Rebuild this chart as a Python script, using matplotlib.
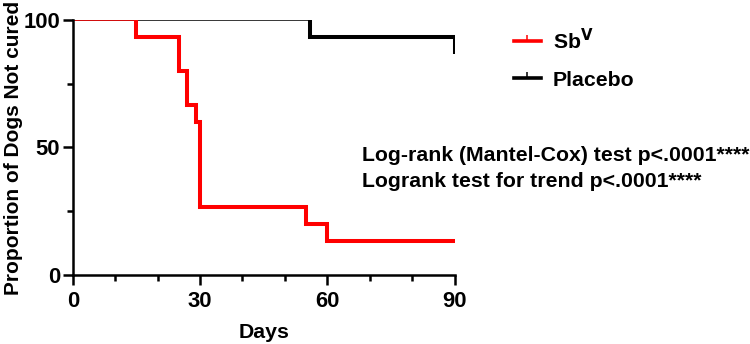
import matplotlib.pyplot as plt
from matplotlib.lines import Line2D
from matplotlib.ticker import MultipleLocator

plt.rcParams['font.family'] = ['Liberation Sans', 'DejaVu Sans']
plt.rcParams['font.weight'] = 'bold'

# Kaplan-Meier step data (days, % not cured)
sb_days = [0, 15, 25, 27, 29, 30, 55, 60, 90]
sb_pct = [100, 93.3, 80, 66.7, 60, 26.7, 20, 13.3, 13.3]
placebo_days = [0, 56, 90]
placebo_pct = [100, 93.3, 86.7]

xticks = [0, 30, 60, 90]
yticks = [0, 50, 100]
stats = ["Log-rank (Mantel-Cox) test p<.0001****",
         "Logrank test for trend p<.0001****"]

FS = 15.3


def km_path(days, pct):
    xs, ys = [days[0]], [pct[0]]
    for i in range(1, len(days)):
        xs += [days[i], days[i]]
        ys += [pct[i - 1], pct[i]]
    return xs, ys


fig = plt.figure(figsize=(7.5, 3.44), dpi=100)
ax = fig.add_axes([0.097, 0.2006, 0.509, 0.7413])

for days, pct, col in [(placebo_days, placebo_pct, 'black'), (sb_days, sb_pct, 'red')]:
    xs, ys = km_path(days, pct)
    # thin segment before the first event, thick afterwards
    ax.plot(xs[:2], ys[:2], color=col, lw=1.1, solid_capstyle='butt')
    ax.plot(xs[1:], ys[1:], color=col, lw=2.9, solid_capstyle='butt', solid_joinstyle='miter')

ax.set_xlim(0, 90)
ax.set_ylim(0, 100)
ax.set_xticks(xticks)
ax.set_yticks(yticks)
ax.xaxis.set_minor_locator(MultipleLocator(10))
ax.yaxis.set_minor_locator(MultipleLocator(25))
ax.tick_params(which='major', length=7, width=1.8, labelsize=FS + 0.5)
ax.tick_params(which='minor', length=4, width=1.8)
ax.tick_params(axis='x', which='major', pad=4.5)
ax.tick_params(axis='y', which='major', pad=2)
for lbl in ax.get_xticklabels() + ax.get_yticklabels():
    lbl.set_fontweight('bold')
ax.spines['top'].set_visible(False)
ax.spines['right'].set_visible(False)
ax.spines['left'].set_linewidth(1.8)
ax.spines['bottom'].set_linewidth(1.8)
ax.set_xlabel('Days', fontsize=FS, fontweight='bold', labelpad=8)
ax.set_ylabel('Proportion of Dogs Not cured', fontsize=FS - 0.3, fontweight='bold',
              labelpad=0.5)

handles = [Line2D([0, 1, 2], [0, 0, 0], color='red', lw=2.6, marker=2, markersize=4,
                  markevery=[1], markeredgewidth=1.1),
           Line2D([0, 1, 2], [0, 0, 0], color='black', lw=2.6, marker=2, markersize=4,
                  markevery=[1], markeredgewidth=1.1)]
leg = fig.legend(handles, [r'Sb$^\mathbf{V}$', 'Placebo'], loc='upper left',
                 bbox_to_anchor=(0.685, 0.92), frameon=False, borderpad=0,
                 borderaxespad=0, handlelength=1.27, handletextpad=0.56,
                 labelspacing=0.84, prop={'weight': 'bold', 'size': FS})

fig.text(0.483, 0.548, stats[0], fontsize=FS, fontweight='bold', va='center')
fig.text(0.483, 0.472, stats[1], fontsize=FS, fontweight='bold', va='center')

fig.savefig('out.png', dpi=100)
